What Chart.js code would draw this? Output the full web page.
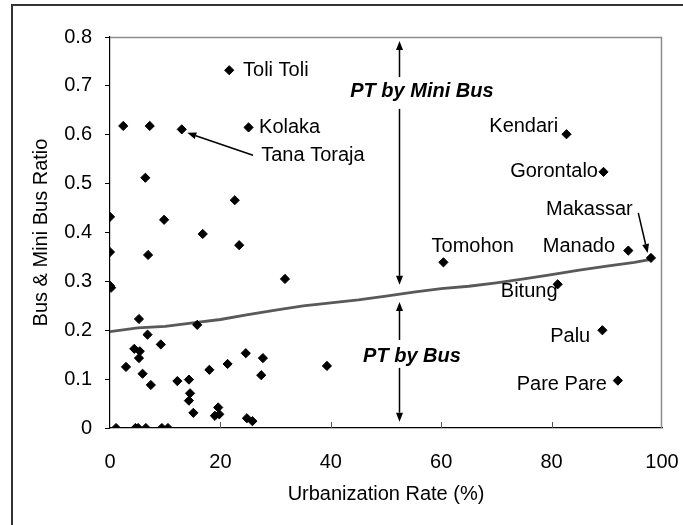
<!DOCTYPE html>
<html>
<head>
<meta charset="utf-8">
<script src="https://cdn.jsdelivr.net/npm/chart.js@4.4.1/dist/chart.umd.min.js"></script>
<style>
  html, body { margin: 0; padding: 0; background: #ffffff; }
  #wrap { width: 683px; height: 525px; position: relative; }
</style>
</head>
<body>
<div id="wrap"><canvas id="c" width="683" height="525"></canvas></div>
<script>
// ---- data ----
const urbanization = [
  21.6, 2.4, 7.2, 13.0, 25.1, 6.4, 22.6, 0, 9.8, 16.8,
  23.4, 0, 6.9, 31.7, 0, 0.2, 5.25, 15.8, 6.8, 9.2,
  4.4, 5.4, 5.25, 24.6, 27.7, 2.9, 21.3, 18.0, 39.3, 5.9,
  27.4, 7.4, 12.2, 14.3, 14.5, 14.3, 15.1, 19.6, 19.8, 19.0,
  24.8, 25.8, 1.1, 4.6, 5.1, 6.5, 9.4, 10.5,
  82.7, 89.4, 93.9, 98.0, 60.4, 81.1, 89.2, 92.0
];
const busRatio = [
  0.732, 0.618, 0.618, 0.611, 0.615, 0.512, 0.466, 0.432, 0.426, 0.397,
  0.374, 0.360, 0.354, 0.305, 0.291, 0.287, 0.223, 0.211, 0.191, 0.171,
  0.162, 0.157, 0.143, 0.153, 0.143, 0.125, 0.131, 0.119, 0.127, 0.111,
  0.108, 0.088, 0.096, 0.099, 0.071, 0.056, 0.031, 0.042, 0.028, 0.025,
  0.020, 0.014, 0, 0, 0, 0, 0, 0,
  0.601, 0.524, 0.363, 0.348, 0.339, 0.294, 0.200, 0.097
];
const trendX = [0, 5, 10, 15, 20, 25, 30, 35, 40, 45, 50, 55, 60, 65, 70, 75, 80, 85, 90, 95, 98];
const trendY = [0.197, 0.205, 0.208, 0.215, 0.222, 0.232, 0.241, 0.250, 0.256, 0.262, 0.270,
                0.278, 0.285, 0.290, 0.297, 0.305, 0.314, 0.323, 0.331, 0.339, 0.345];
const xTickValues = [0, 20, 40, 60, 80, 100];
const yTickLabels = ['0', '0.1', '0.2', '0.3', '0.4', '0.5', '0.6', '0.7', '0.8'];
const cityNames = ['Toli Toli', 'Kolaka', 'Tana Toraja', 'Kendari', 'Gorontalo', 'Makassar',
                   'Tomohon', 'Manado', 'Bitung', 'Palu', 'Pare Pare'];
const zoneNames = ['PT by Mini Bus', 'PT by Bus'];

// ---- annotation placement (data coordinates) ----
const cityLabelPos = [
  { x: 24.1, y: 0.732, align: 'left' },
  { x: 27.0, y: 0.615, align: 'left' },
  { x: 27.4, y: 0.558, align: 'left' },
  { x: 81.2, y: 0.616, align: 'right' },
  { x: 88.4, y: 0.524, align: 'right' },
  { x: 94.7, y: 0.448, align: 'right' },
  { x: 65.7, y: 0.371, align: 'center' },
  { x: 91.5, y: 0.371, align: 'right' },
  { x: 70.8, y: 0.279, align: 'left' },
  { x: 87.0, y: 0.188, align: 'right' },
  { x: 90.0, y: 0.090, align: 'right' }
];
const zoneLabelPos = [ { x: 56.5, y: 0.688 }, { x: 54.7, y: 0.146 } ];
// pointer arrows: from (x1,y1) to head at (x2,y2)
const pointerArrows = [
  { x1: 25.9, y1: 0.558, x2: 14.0, y2: 0.604 },
  { x1: 95.7, y1: 0.440, x2: 97.4, y2: 0.358 }
];
// vertical zone arrows: segment with head at (x, yHead)
const zoneArrows = [
  { x: 52.3, yFrom: 0.718, yHead: 0.792 },
  { x: 52.3, yFrom: 0.653, yHead: 0.293 },
  { x: 52.3, yFrom: 0.180, yHead: 0.258 },
  { x: 52.3, yFrom: 0.123, yHead: 0.013 }
];

const FONT = '"Liberation Sans", Arial, Helvetica, sans-serif';
const FS = 20;

function drawArrow(ctx, x1, y1, x2, y2, headLen, headW) {
  const ang = Math.atan2(y2 - y1, x2 - x1);
  const bx = x2 - headLen * Math.cos(ang), by = y2 - headLen * Math.sin(ang);
  ctx.beginPath();
  ctx.moveTo(x1, y1);
  ctx.lineTo(bx, by);
  ctx.stroke();
  ctx.beginPath();
  ctx.moveTo(x2, y2);
  ctx.lineTo(bx + headW * Math.sin(ang), by - headW * Math.cos(ang));
  ctx.lineTo(bx - headW * Math.sin(ang), by + headW * Math.cos(ang));
  ctx.closePath();
  ctx.fill();
}

const decorPlugin = {
  id: 'decor',
  beforeDraw(chart) {
    const ctx = chart.ctx;
    ctx.save();
    ctx.strokeStyle = '#333333';
    ctx.lineWidth = 2;
    ctx.beginPath();
    ctx.moveTo(12, 525);
    ctx.lineTo(12, 5);
    ctx.lineTo(683, 5);
    ctx.stroke();
    ctx.restore();
  },
  beforeDatasetsDraw(chart) {
    const ctx = chart.ctx, a = chart.chartArea, xs = chart.scales.x;
    ctx.save();
    ctx.strokeStyle = '#8c8c8c';
    ctx.lineWidth = 1.5;
    ctx.beginPath();
    ctx.moveTo(a.left, a.top + 0.5);
    ctx.lineTo(a.right - 0.5, a.top + 0.5);
    ctx.lineTo(a.right - 0.5, a.bottom);
    ctx.stroke();
    ctx.strokeStyle = '#555555';
    ctx.lineWidth = 1;
    xTickValues.slice(1, -1).forEach(v => {
      const px = Math.round(xs.getPixelForValue(v)) + 0.5;
      ctx.beginPath();
      ctx.moveTo(px, a.bottom);
      ctx.lineTo(px, a.bottom - 6);
      ctx.stroke();
    });
    ctx.restore();
  },
  afterDatasetsDraw(chart) {
    const ctx = chart.ctx, xs = chart.scales.x, ys = chart.scales.y;
    ctx.save();
    ctx.fillStyle = '#000';
    ctx.strokeStyle = '#000';
    ctx.textBaseline = 'middle';
    ctx.font = FS + 'px ' + FONT;
    cityNames.forEach((name, i) => {
      const p = cityLabelPos[i];
      ctx.textAlign = p.align;
      ctx.fillText(name, xs.getPixelForValue(p.x), ys.getPixelForValue(p.y));
    });
    ctx.font = 'italic bold ' + FS + 'px ' + FONT;
    ctx.textAlign = 'center';
    zoneNames.forEach((name, i) => {
      const p = zoneLabelPos[i];
      ctx.fillText(name, xs.getPixelForValue(p.x), ys.getPixelForValue(p.y));
    });
    ctx.lineWidth = 1.5;
    pointerArrows.forEach(r => {
      drawArrow(ctx, xs.getPixelForValue(r.x1), ys.getPixelForValue(r.y1),
                xs.getPixelForValue(r.x2), ys.getPixelForValue(r.y2), 9, 3.5);
    });
    zoneArrows.forEach(r => {
      const px = Math.round(xs.getPixelForValue(r.x)) + 0.5;
      drawArrow(ctx, px, ys.getPixelForValue(r.yFrom), px, ys.getPixelForValue(r.yHead), 9, 3.5);
    });
    ctx.restore();
  }
};

const pointData = urbanization.map((x, i) => ({ x: x, y: busRatio[i] }));
const trendData = trendX.map((x, i) => ({ x: x, y: trendY[i] }));

new Chart(document.getElementById('c'), {
  type: 'scatter',
  data: {
    datasets: [
      {
        data: pointData,
        pointStyle: 'rectRot',
        pointRadius: 4.6,
        pointBackgroundColor: '#000',
        pointBorderColor: '#000',
        pointBorderWidth: 1,
        showLine: false
      },
      {
        data: trendData,
        showLine: true,
        pointRadius: 0,
        borderColor: '#595959',
        borderWidth: 2.8,
        fill: false,
        tension: 0
      }
    ]
  },
  options: {
    responsive: false,
    animation: false,
    events: [],
    layout: { padding: { left: 0, top: 37, right: 21, bottom: 0 } },
    plugins: { legend: { display: false }, tooltip: { enabled: false } },
    scales: {
      x: {
        type: 'linear',
        min: 0, max: 100,
        afterFit(s) { s.height = 97; s.paddingLeft = 0; s.paddingRight = 0; },
        afterBuildTicks(s) { s.ticks = xTickValues.map(v => ({ value: v })); },
        grid: { display: false, drawTicks: false, drawOnChartArea: false },
        border: { display: true, color: '#000', width: 1.2 },
        ticks: { color: '#000', padding: 22, maxRotation: 0, font: { family: FONT, size: FS },
                 callback: v => String(v) },
        title: { display: true, text: 'Urbanization Rate (%)', color: '#000',
                 font: { family: FONT, size: FS }, padding: { top: 0, bottom: 19 } }
      },
      y: {
        type: 'linear',
        min: 0, max: 0.8,
        afterFit(s) { s.width = 110; s.paddingTop = 0; s.paddingBottom = 0; },
        afterBuildTicks(s) { s.ticks = yTickLabels.map(t => ({ value: parseFloat(t) })); },
        grid: { display: true, drawOnChartArea: false, drawTicks: true, tickLength: 5, color: '#000' },
        border: { display: true, color: '#000', width: 1.2 },
        ticks: { color: '#000', padding: 13, font: { family: FONT, size: FS },
                 callback: (v, i) => yTickLabels[i] },
        title: { display: true, text: 'Bus & Mini Bus Ratio', color: '#000',
                 font: { family: FONT, size: FS }, padding: { top: 29, bottom: 0 } }
      }
    }
  },
  plugins: [decorPlugin]
});
</script>
</body>
</html>
